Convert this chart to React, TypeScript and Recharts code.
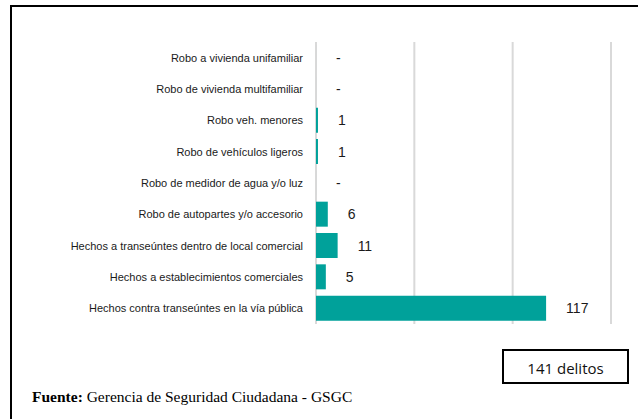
import { Bar, BarChart, CartesianGrid, LabelList, XAxis, YAxis } from 'recharts'

const categories = [
    'Robo a vivienda unifamiliar',
    'Robo de vivienda multifamiliar',
    'Robo veh. menores',
    'Robo de vehículos ligeros',
    'Robo de medidor de agua y/o luz',
    'Robo de autopartes y/o accesorio',
    'Hechos a transeúntes dentro de local comercial',
    'Hechos a establecimientos comerciales',
    'Hechos contra transeúntes en la vía pública'
]
const delitos = [0, 0, 1, 1, 0, 6, 11, 5, 117]
const xTicks = [0, 50, 100, 150]
const totalLabel = '141 delitos'

const data = categories.map((name, i) => ({ name, value: delitos[i] }))

const ValueLabel = (props: any) => {
    const { x, y, width, height, value } = props
    return (
        <text
            x={Number(x) + Number(width) + 20}
            y={Number(y) + Number(height) / 2}
            dominantBaseline="central"
            fontSize={14}
            fontFamily="'Liberation Sans', Arial, sans-serif"
            fill="#1a1a1a"
        >
            {Number(value) === 0 ? '-' : value}
        </text>
    )
}

const EmptyTick = () => <g />

export default function App() {
    return (
        <div style={{ position: 'absolute', left: 0, top: 0, width: 638, height: 419, overflow: 'hidden', background: '#fff' }}>
            <div
                style={{
                    position: 'absolute',
                    left: 10,
                    top: 5,
                    width: 700,
                    height: 500,
                    border: '2px solid #000',
                    boxSizing: 'border-box'
                }}
            />
            <div style={{ position: 'absolute', left: 0, top: 0 }}>
                <BarChart
                    layout="vertical"
                    width={638}
                    height={419}
                    data={data}
                    margin={{ top: 42, right: 27, bottom: 95, left: 0 }}
                    barSize={25}
                >
                    <CartesianGrid horizontal={false} stroke="#d9d9d9" strokeWidth={2} />
                    <XAxis
                        type="number"
                        domain={[0, 150]}
                        ticks={xTicks}
                        interval={0}
                        height={0}
                        axisLine={false}
                        tickLine={false}
                        tick={EmptyTick}
                    />
                    <YAxis
                        type="category"
                        dataKey="name"
                        width={316}
                        axisLine={false}
                        tickLine={false}
                        tickSize={0}
                        tickMargin={13}
                        interval={0}
                        tick={{ fontSize: 11, fill: '#1a1a1a', fontFamily: "'Liberation Sans', Arial, sans-serif" }}
                    />
                    <Bar dataKey="value" fill="#00a19a" minPointSize={0.01} isAnimationActive={false}>
                        <LabelList dataKey="value" content={ValueLabel} />
                    </Bar>
                </BarChart>
            </div>
            <div
                style={{
                    position: 'absolute',
                    left: 502,
                    top: 349,
                    width: 127,
                    height: 35,
                    border: '2px solid #000',
                    boxSizing: 'border-box',
                    display: 'flex',
                    alignItems: 'center',
                    justifyContent: 'center',
                    fontFamily: "'Open Sans', sans-serif",
                    fontSize: 15,
                    color: '#111',
                    paddingTop: 2
                }}
            >
                {totalLabel}
            </div>
            <div
                style={{
                    position: 'absolute',
                    left: 32,
                    top: 388,
                    fontFamily: "'Liberation Serif', 'Times New Roman', serif",
                    fontSize: 15.5,
                    color: '#000',
                    whiteSpace: 'nowrap'
                }}
            >
                <b>Fuente:</b> Gerencia de Seguridad Ciudadana - GSGC
            </div>
        </div>
    )
}
